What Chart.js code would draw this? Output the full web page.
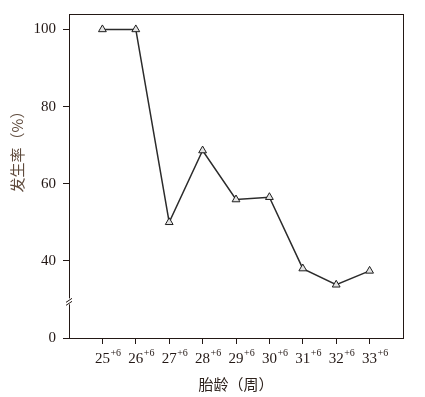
<!DOCTYPE html>
<html>
<head>
<meta charset="utf-8">
<script src="https://cdn.jsdelivr.net/npm/chart.js@4"></script>
<style>
  html, body { margin: 0; padding: 0; background: #fff; }
  #wrap { width: 425px; height: 397px; position: relative; }
</style>
</head>
<body>
<div id="wrap"><canvas id="c"></canvas></div>
<script>
// gestational age (weeks, +6 days) and incidence (%)
const weeks = [25, 26, 27, 28, 29, 30, 31, 32, 33]
const weekSuffix = '+6'
const incidence = [100, 100, 50, 68.6, 55.9, 56.5, 38, 33.8, 37.4]
// y axis is broken: the lowest tick sits at 20 on the scale but reads "0"
const yTicks = [20, 40, 60, 80, 100]
const yTickLabels = { 20: '0', 40: '40', 60: '60', 80: '80', 100: '100' }
const xTitle = '胎龄（周）'
const yTitle = '发生率（%）'

const ink = '#231815'
const serif = '"Liberation Serif", "DejaVu Serif", serif'
const cjk = '"Noto Sans CJK SC", sans-serif'

const frame = {
  id: 'frame',
  afterDraw(chart) {
    const { ctx, chartArea: a, scales } = chart
    ctx.save()
    ctx.strokeStyle = ink
    ctx.lineWidth = 1
    ctx.strokeRect(a.left + 0.5, a.top + 0.5, a.right - a.left, a.bottom - a.top)

    // axis break marks
    const by = scales.y.getPixelForValue(29.5)
    ctx.fillStyle = '#fff'
    ctx.fillRect(a.left - 3, by - 3, 6, 6)
    ctx.beginPath()
    ctx.moveTo(a.left - 3, by + 1); ctx.lineTo(a.left + 3, by - 3)
    ctx.moveTo(a.left - 3, by + 4); ctx.lineTo(a.left + 3, by)
    ctx.stroke()

    // "+6" superscripts after the week numbers
    ctx.fillStyle = ink
    ctx.textBaseline = 'top'
    ctx.textAlign = 'left'
    weeks.forEach((w) => {
      const x = scales.x.getPixelForValue(w)
      ctx.font = '15px ' + serif
      const half = ctx.measureText(String(w)).width / 2
      ctx.font = '10px ' + serif
      ctx.fillText(weekSuffix, x + half + 0.5, 348)
    })

    // titles
    ctx.font = '15px ' + cjk
    ctx.textAlign = 'center'
    ctx.textBaseline = 'middle'
    ctx.fillStyle = '#2e221c'
    ctx.fillText(xTitle, (a.left + a.right) / 2, 384)
    ctx.fillStyle = '#5e4a3c'
    ctx.translate(17, 148)
    ctx.rotate(-Math.PI / 2)
    ctx.fillText(yTitle, 0, 0)
    ctx.restore()
  }
}

new Chart(document.getElementById('c'), {
  type: 'line',
  data: {
    datasets: [{
      data: weeks.map((w, i) => ({ x: w, y: incidence[i] })),
      borderColor: '#2b2b2b',
      borderWidth: 1.5,
      tension: 0,
      pointStyle: 'triangle',
      pointRadius: 4.5,
      pointBackgroundColor: '#e4e4e4',
      pointBorderColor: '#1e1e1e',
      pointBorderWidth: 1,
    }],
  },
  options: {
    responsive: true,
    maintainAspectRatio: false,
    animation: false,
    layout: { padding: { top: 14, right: 22, left: 0, bottom: 0 } },
    plugins: { legend: { display: false }, tooltip: { enabled: false } },
    scales: {
      x: {
        type: 'linear',
        min: 24,
        max: 34,
        afterBuildTicks: (s) => { s.ticks = weeks.map((w) => ({ value: w })) },
        afterFit: (s) => { s.height = 59 },
        border: { display: false },
        grid: { drawOnChartArea: false, drawTicks: true, tickLength: 6, color: ink },
        ticks: {
          color: ink,
          padding: 6,
          maxRotation: 0,
          font: { family: serif, size: 15 },
          callback: (v) => String(v),
        },
      },
      y: {
        min: 20,
        max: 104,
        afterBuildTicks: (s) => { s.ticks = yTicks.map((v) => ({ value: v })) },
        afterFit: (s) => { s.width = 69; s.paddingTop = 0; s.paddingBottom = 0 },
        border: { display: false },
        grid: { drawOnChartArea: false, drawTicks: true, tickLength: 6, color: ink },
        ticks: {
          color: ink,
          padding: 7,
          font: { family: serif, size: 15 },
          callback: (v) => yTickLabels[v],
        },
      },
    },
  },
  plugins: [frame],
})
</script>
</body>
</html>
